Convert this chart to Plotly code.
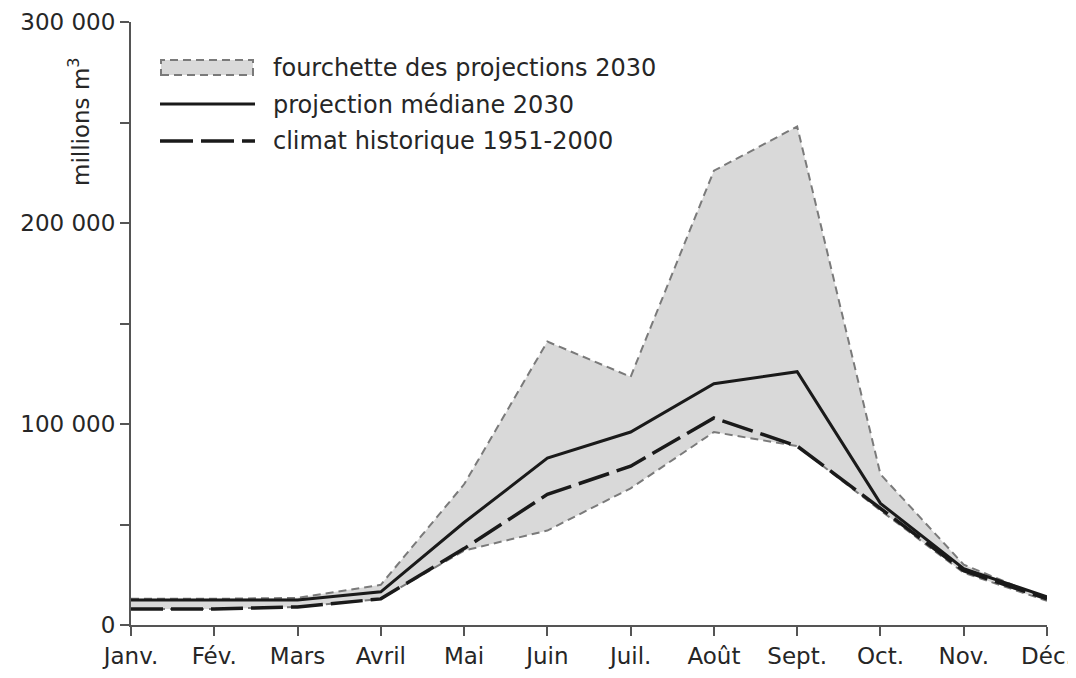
import plotly.graph_objects as go

months = ["Janv.", "Fév.", "Mars", "Avril", "Mai", "Juin", "Juil.", "Août", "Sept.", "Oct.", "Nov.", "Déc."]
band_upper = [13000, 13000, 13500, 20000, 70000, 141000, 123500, 226000, 248000, 75000, 30000, 13000]
band_lower = [8000, 8000, 9000, 13000, 37000, 47000, 68000, 96000, 89000, 57000, 26000, 12000]
median_2030 = [12500, 12500, 12500, 16500, 51000, 83000, 96000, 120000, 126000, 60500, 28000, 14000]
historic = [8000, 8000, 9000, 13000, 38000, 65000, 79000, 103000, 89000, 58000, 27000, 13000]
ytick_vals = [0, 100000, 200000, 300000]
ytick_text = ["0", "100 000", "200 000", "300 000"]
legend_labels = ["fourchette des projections 2030", "projection médiane 2030", "climat historique 1951-2000"]

FONT = "DejaVu Sans, Verdana, sans-serif"
TXT = "#262626"
x = list(range(len(months)))

fig = go.Figure()
fig.add_trace(go.Scatter(x=x, y=band_lower, mode="lines",
                         line=dict(color="#7a7a7a", width=2, dash="8px,5px"),
                         showlegend=False, hoverinfo="skip"))
fig.add_trace(go.Scatter(x=x, y=band_upper, mode="lines", fill="tonexty",
                         fillcolor="#d9d9d9",
                         line=dict(color="#7a7a7a", width=2, dash="8px,5px"),
                         showlegend=False))
fig.add_trace(go.Scatter(x=x, y=historic, mode="lines",
                         line=dict(color="#1a1a1a", width=3.5, dash="32px,8px"),
                         showlegend=False))
fig.add_trace(go.Scatter(x=x, y=median_2030, mode="lines",
                         line=dict(color="#1a1a1a", width=3),
                         showlegend=False))

# page body offset of the plot div in the screenshot
OFF = 8
W, H = 1076 - OFF, 678 - OFF
# desired plot area in screenshot pixels
SL, ST, SR, SB = 131, 22, 1047, 625
L, T = SL - OFF, ST - OFF
R, B = W - (SR - OFF), H - (SB - OFF)
pw, ph = SR - SL, SB - ST

def px(xs):
    return (xs - SL) / pw

def py(ys):
    return 1 - (ys - ST) / ph

shapes = [
    dict(type="rect", xref="paper", yref="paper",
         x0=px(161), x1=px(253), y0=py(75), y1=py(60),
         fillcolor="#d9d9d9", line=dict(color="#7a7a7a", width=2, dash="8px,5px")),
    dict(type="line", xref="paper", yref="paper",
         x0=px(160), x1=px(255), y0=py(104), y1=py(104),
         line=dict(color="#1a1a1a", width=3)),
    dict(type="line", xref="paper", yref="paper",
         x0=px(160), x1=px(255), y0=py(141), y1=py(141),
         line=dict(color="#1a1a1a", width=3.5, dash="33px,8px")),
]

annotations = []
for lab, yy in zip(legend_labels, [68, 105, 141]):
    annotations.append(dict(text=lab, xref="paper", yref="paper",
                            x=px(271), y=py(yy), xanchor="left", yanchor="middle",
                            showarrow=False, font=dict(family=FONT, size=24, color=TXT)))
annotations.append(dict(text="millions m<sup>3</sup>", xref="paper", yref="paper",
                        x=px(79), y=py(122), xanchor="center", yanchor="middle",
                        textangle=-90, showarrow=False,
                        font=dict(family=FONT, size=23, color=TXT)))

fig.update_layout(
    width=W, height=H,
    margin=dict(l=L, r=R, t=T, b=B, autoexpand=False),
    paper_bgcolor="white", plot_bgcolor="white",
    shapes=shapes, annotations=annotations,
    font=dict(family=FONT, color=TXT, size=24),
    showlegend=False,
)
fig.update_xaxes(range=[0, 11], tickvals=x, ticktext=months, automargin=False,
                 showgrid=False, zeroline=False, showline=True,
                 linecolor="#555555", linewidth=2,
                 ticks="outside", ticklen=9, tickwidth=2, tickcolor="#555555",
                 ticklabeloverflow="allow",
                 tickfont=dict(family=FONT, size=23, color=TXT))
fig.update_yaxes(range=[0, 300000], tickvals=ytick_vals, ticktext=ytick_text, automargin=False,
                 showgrid=False, zeroline=False, showline=True,
                 linecolor="#555555", linewidth=2,
                 ticks="outside", ticklen=9, tickwidth=2, tickcolor="#555555",
                 ticklabeloverflow="allow",
                 minor=dict(tickvals=[50000, 150000, 250000], ticks="outside",
                            ticklen=9, tickwidth=2, tickcolor="#555555", showgrid=False),
                 tickfont=dict(family=FONT, size=23, color=TXT))

fig.write_html("out.html")
